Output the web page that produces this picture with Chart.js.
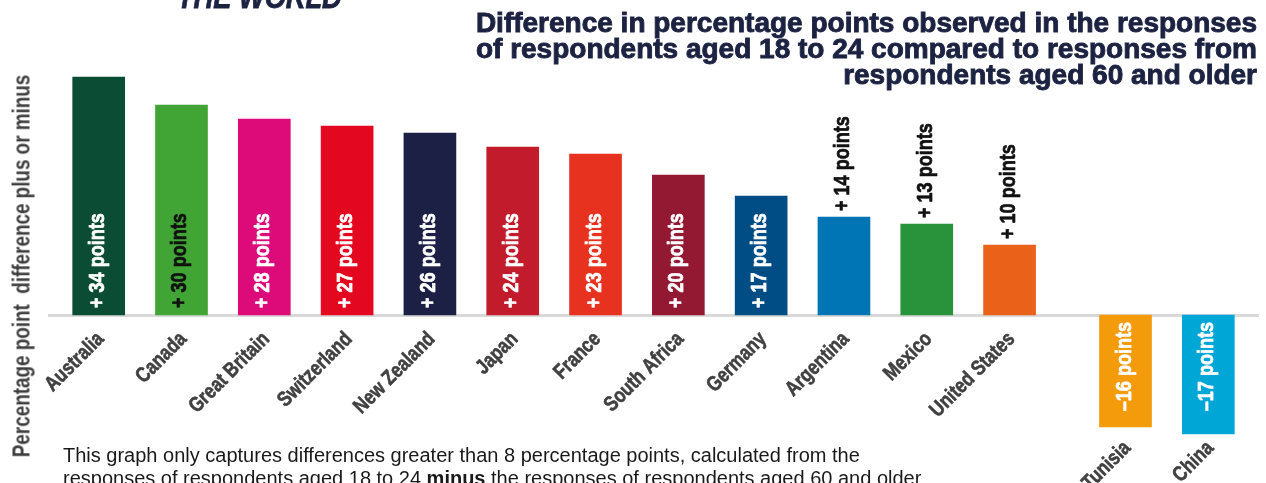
<!DOCTYPE html>
<html>
<head>
<meta charset="utf-8">
<script src="https://cdn.jsdelivr.net/npm/chart.js@4/dist/chart.umd.min.js"></script>
<style>
  html, body { margin: 0; padding: 0; background: #fff; overflow: hidden; }
  #wrap { position: relative; width: 1266px; height: 483px; overflow: hidden; }
  #chart { position: absolute; left: 0; top: 0; }
  .txt { position: absolute; white-space: pre; font-family: 'Liberation Sans', Arial, sans-serif; }
  #kicker { left: 177px; top: -19px; font-size: 32px; line-height: 32px; font-weight: 700; font-style: italic;
            color: #1c2241; -webkit-text-stroke: 0.8px #1c2241; transform: scaleX(0.85); transform-origin: left top; }
  #title { right: 9px; top: 10px; text-align: right; font-size: 28px; line-height: 26px; font-weight: 700;
           color: #1c2241; -webkit-text-stroke: 0.9px #1c2241; }
  #ytitle { left: 22px; top: 266px; font-size: 23px; line-height: 23px; font-weight: 700; color: #3d3d3d;
            transform: translate(-50%, -50%) rotate(-90deg) scaleX(0.82); }
  #note { left: 63px; top: 444px; font-size: 20px; line-height: 23px; color: #1a1a1a; }
</style>
</head>
<body>
<div id="wrap">
  <canvas id="chart" width="1266" height="483"></canvas>
  <div class="txt" id="kicker">THE WORLD</div>
  <div class="txt" id="title">Difference in percentage points observed in the responses
of respondents aged 18 to 24 compared to responses from
respondents aged 60 and older</div>
  <div class="txt" id="ytitle">Percentage point  difference plus or minus</div>
  <div class="txt" id="note">This graph only captures differences greater than 8 percentage points, calculated from the
responses of respondents aged 18 to 24 <b>minus</b> the responses of respondents aged 60 and older</div>
</div>
<script>
// Countries and the gap (in percentage points) between 18-24 and 60+ respondents
const countries = ['Australia', 'Canada', 'Great Britain', 'Switzerland', 'New Zealand', 'Japan', 'France',
                   'South Africa', 'Germany', 'Argentina', 'Mexico', 'United States', 'Tunisia', 'China'];
const differences = [34, 30, 28, 27, 26, 24, 23, 20, 17, 14, 13, 10, -16, -17];

// Bar fills and the ink used for labels drawn inside each bar
const barColors = ['#0b4d34', '#41a535', '#dd0b7a', '#e3071f', '#1c2045', '#c11b2c', '#e6321f',
                   '#931932', '#004c85', '#0075b6', '#28933a', '#ea6219', '#f39b0b', '#00a6d6'];
const insideInk = ['#ffffff', '#111111', '#ffffff', '#ffffff', '#ffffff', '#ffffff', '#ffffff',
                   '#ffffff', '#ffffff', '#ffffff', '#ffffff', '#ffffff', '#ffffff', '#ffffff'];

// Negative results sit in their own group, pushed a little further right
const GROUP_GAP = 0.4;
const slot = i => i + (differences[i] < 0 ? GROUP_GAP : 0);

const FONT = "'Liberation Sans', Arial, sans-serif";
const SQUEEZE = 0.82; // condensed look for the vertical and diagonal labels

const pointsText = v => (v > 0 ? '+ ' : '\u2013') + Math.abs(v) + ' points';

// Filled text with a thin outline in the same colour, for a heavier weight
function heavyText(ctx, text, x, y, color, weight) {
  ctx.fillStyle = color;
  ctx.strokeStyle = color;
  ctx.lineWidth = weight;
  ctx.lineJoin = 'round';
  ctx.fillText(text, x, y);
  ctx.strokeText(text, x, y);
}

// Vertical "+ N points" labels, inside the bar when it is long enough
const valueLabels = {
  id: 'valueLabels',
  afterDatasetsDraw(chart) {
    const { ctx } = chart;
    const zero = chart.scales.y.getPixelForValue(0);
    const bars = chart.getDatasetMeta(0).data;
    ctx.save();
    ctx.font = `700 22px ${FONT}`;
    ctx.textBaseline = 'alphabetic';
    bars.forEach((bar, i) => {
      const v = differences[i];
      const text = pointsText(v);
      const len = ctx.measureText(text).width * SQUEEZE;
      const barLen = Math.abs(bar.base - bar.y);
      const inside = len + 14 <= barLen;
      ctx.save();
      let y0, align;
      if (v >= 0) {
        y0 = inside ? zero - 7 : bar.y - 6;
        align = 'left';
      } else {
        y0 = zero + 7;
        align = 'right';
      }
      ctx.translate(bar.x, y0);
      ctx.rotate(-Math.PI / 2);
      ctx.scale(SQUEEZE, 1);
      ctx.textAlign = align;
      heavyText(ctx, text, 0, 5, inside ? insideInk[i] : '#111111', 0.7);
      ctx.restore();
    });
    ctx.restore();
  }
};

// Diagonal country names under the baseline (or under the lowest negative bar)
const countryLabels = {
  id: 'countryLabels',
  afterDatasetsDraw(chart) {
    const { ctx } = chart;
    const y = chart.scales.y;
    const zero = y.getPixelForValue(0);
    const lowest = y.getPixelForValue(Math.min(...differences));
    const bars = chart.getDatasetMeta(0).data;
    ctx.save();
    ctx.font = `700 21px ${FONT}`;
    ctx.textAlign = 'right';
    ctx.textBaseline = 'middle';
    bars.forEach((bar, i) => {
      const top = differences[i] < 0 ? lowest + 11 : zero + 21;
      ctx.save();
      ctx.translate(bar.x + 2, top);
      ctx.rotate(-Math.PI / 4);
      ctx.scale(SQUEEZE, 1);
      heavyText(ctx, countries[i], 0, 0, '#404040', 0.6);
      ctx.restore();
    });
    ctx.restore();
  }
};

new Chart(document.getElementById('chart'), {
  type: 'bar',
  data: {
    datasets: [{
      data: countries.map((c, i) => ({ x: slot(i), y: differences[i] })),
      backgroundColor: barColors,
      borderWidth: 0,
      barThickness: 52
    }]
  },
  options: {
    responsive: false,
    animation: false,
    events: [],
    layout: { padding: { left: 49, right: 8, top: 63, bottom: 14 } },
    plugins: { legend: { display: false }, tooltip: { enabled: false }, title: { display: false } },
    scales: {
      x: {
        type: 'linear',
        min: -0.6,
        max: 14.0,
        offset: false,
        position: { y: 0 },
        grid: { display: false },
        ticks: { display: false },
        border: { display: true, color: '#d9d9d9', width: 3 }
      },
      y: {
        min: -22,
        max: 36,
        display: false
      }
    }
  },
  plugins: [valueLabels, countryLabels]
});
</script>
</body>
</html>
